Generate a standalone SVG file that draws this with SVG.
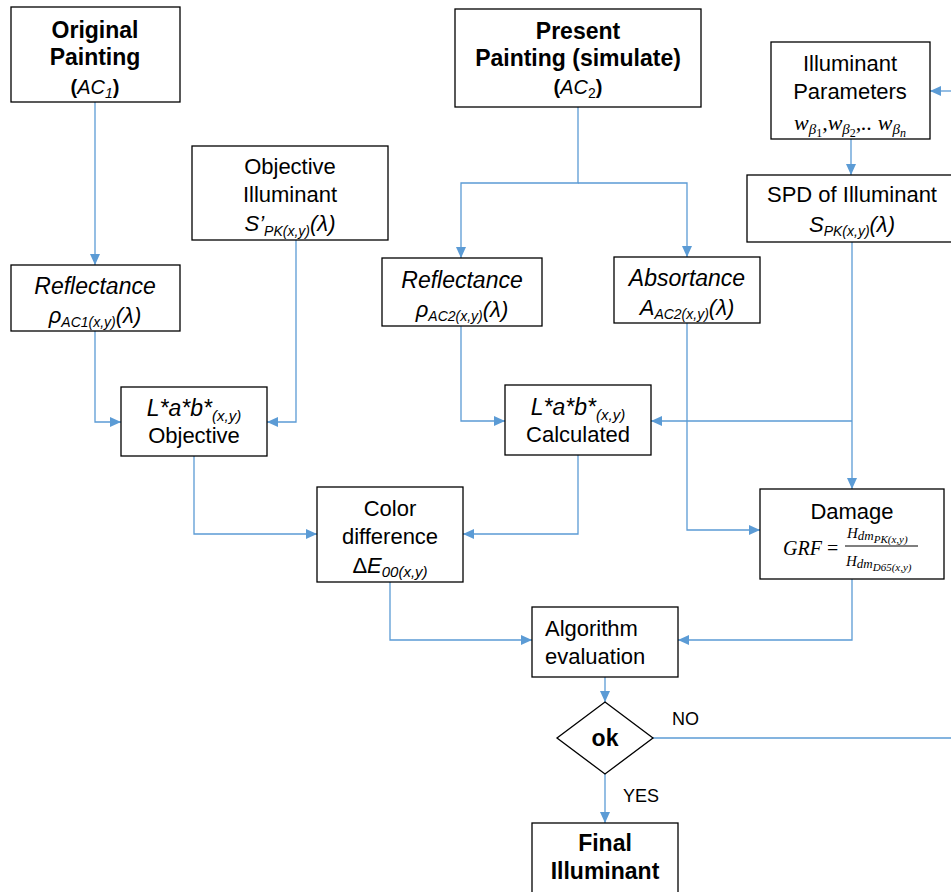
<svg xmlns="http://www.w3.org/2000/svg" width="951" height="892" viewBox="0 0 951 892">
<style>
.box{fill:#fff;stroke:#000;stroke-width:1.3}
.t{font-family:"Liberation Sans",Arial,sans-serif;font-size:22px;fill:#000;text-anchor:middle}
.b{font-weight:bold;font-size:23px}
.i{font-style:italic}
.it{font-style:italic;font-size:23px}
.m{font-family:"Liberation Serif","Times New Roman",serif;font-style:italic;fill:#000}
.c{fill:none;stroke:#5B9BD5;stroke-width:1.3}
.lbl{font-family:"Liberation Sans",Arial,sans-serif;font-size:18px;fill:#000}
</style>
<defs>
<marker id="arr" markerUnits="userSpaceOnUse" markerWidth="11" markerHeight="10" refX="11" refY="5" orient="auto">
<path d="M0,0 L11,5 L0,10 z" fill="#5B9BD5"/>
</marker>
</defs>

<g id="connectors">
<path class="c" d="M95,102 V265" marker-end="url(#arr)"/>
<path class="c" d="M95,331 V422 H121" marker-end="url(#arr)"/>
<path class="c" d="M296,240 V422 H267" marker-end="url(#arr)"/>
<path class="c" d="M578,107 V183 H461 V258" marker-end="url(#arr)"/>
<path class="c" d="M578,183 H687 V257" marker-end="url(#arr)"/>
<path class="c" d="M461,326 V421 H505" marker-end="url(#arr)"/>
<path class="c" d="M852,242 V489" marker-end="url(#arr)"/>
<path class="c" d="M852,421 H651" marker-end="url(#arr)"/>
<path class="c" d="M687,323 V530 H760" marker-end="url(#arr)"/>
<path class="c" d="M851,139 V175" marker-end="url(#arr)"/>
<path class="c" d="M951,91 H930" marker-end="url(#arr)"/>
<path class="c" d="M194,456 V534 H317" marker-end="url(#arr)"/>
<path class="c" d="M578,455 V534 H463" marker-end="url(#arr)"/>
<path class="c" d="M390,582 V640 H532" marker-end="url(#arr)"/>
<path class="c" d="M852,579 V640 H678" marker-end="url(#arr)"/>
<path class="c" d="M605,677 V702" marker-end="url(#arr)"/>
<path class="c" d="M653,738 H951"/>
<path class="c" d="M605,774 V823" marker-end="url(#arr)"/>
<text class="lbl" x="672" y="725">NO</text>
<text class="lbl" x="623" y="802">YES</text>
</g>

<g id="original">
<rect class="box" x="11" y="7" width="169" height="95"/>
<text class="t b" x="95" y="38">Original</text>
<text class="t b" x="95" y="65">Painting</text>
<text class="t" x="95" y="94" style="font-size:20px"><tspan font-weight="bold">(</tspan><tspan class="i">AC</tspan><tspan class="i" font-size="14" dy="4">1</tspan><tspan font-weight="bold" dy="-4">)</tspan></text>
</g>

<g id="objillum">
<rect class="box" x="192" y="146" width="196" height="94"/>
<text class="t" x="290" y="174">Objective</text>
<text class="t" x="290" y="202">Illuminant</text>
<text class="t i" x="290" y="231">S’<tspan font-size="14" dy="5">PK(x,y)</tspan><tspan dy="-5">(λ)</tspan></text>
</g>

<g id="refl1">
<rect class="box" x="11" y="265" width="169" height="66"/>
<text class="t it" x="95" y="294">Reflectance</text>
<text class="t i" x="95" y="323">ρ<tspan font-size="14" dy="4">AC1(x,y)</tspan><tspan dy="-4">(λ)</tspan></text>
</g>

<g id="labobj">
<rect class="box" x="121" y="387" width="146" height="69"/>
<text class="t it" x="194" y="416">L*a*b*<tspan font-size="15" dy="5">(x,y)</tspan></text>
<text class="t" x="194" y="443">Objective</text>
</g>

<g id="present">
<rect class="box" x="455" y="9" width="246" height="98"/>
<text class="t b" x="578" y="39">Present</text>
<text class="t b" x="578" y="66">Painting (simulate)</text>
<text class="t" x="578" y="94" style="font-size:20px"><tspan font-weight="bold">(</tspan><tspan class="i">AC</tspan><tspan font-size="14" dy="4">2</tspan><tspan font-weight="bold" dy="-4">)</tspan></text>
</g>

<g id="refl2">
<rect class="box" x="382" y="258" width="160" height="68"/>
<text class="t it" x="462" y="288">Reflectance</text>
<text class="t i" x="462" y="317">ρ<tspan font-size="14" dy="4">AC2(x,y)</tspan><tspan dy="-4">(λ)</tspan></text>
</g>

<g id="absort">
<rect class="box" x="614" y="257" width="146" height="66"/>
<text class="t it" x="687" y="286">Absortance</text>
<text class="t i" x="687" y="315">A<tspan font-size="14" dy="4">AC2(x,y)</tspan><tspan dy="-4">(λ)</tspan></text>
</g>

<g id="labcalc">
<rect class="box" x="505" y="385" width="146" height="70"/>
<text class="t it" x="578" y="415">L*a*b*<tspan font-size="15" dy="5">(x,y)</tspan></text>
<text class="t" x="578" y="442">Calculated</text>
</g>

<g id="illparams">
<rect class="box" x="771" y="42" width="159" height="97"/>
<text class="t" x="850" y="71">Illuminant</text>
<text class="t" x="850" y="99">Parameters</text>
<text class="m" x="850" y="130" font-size="22" text-anchor="middle">w<tspan font-size="15" dy="4">β</tspan><tspan font-size="12" dy="3" font-style="normal">1</tspan><tspan dy="-7">,</tspan>w<tspan font-size="15" dy="4">β</tspan><tspan font-size="12" dy="3" font-style="normal">2</tspan><tspan dy="-7">,.. </tspan>w<tspan font-size="15" dy="4">β</tspan><tspan font-size="12" dy="3">n</tspan></text>
</g>

<g id="spd">
<rect class="box" x="747" y="175" width="210" height="67"/>
<text class="t" x="852" y="202">SPD of Illuminant</text>
<text class="t i" x="852" y="232">S<tspan font-size="14" dy="4">PK(x,y)</tspan><tspan dy="-4">(λ)</tspan></text>
</g>

<g id="damage">
<rect class="box" x="760" y="489" width="184" height="90"/>
<text class="t" x="852" y="519">Damage</text>
<text class="m" x="783" y="555" font-size="20">GRF<tspan font-style="normal" dx="5">=</tspan></text>
<line x1="845" y1="546" x2="918" y2="546" stroke="#000" stroke-width="1.2"/>
<text class="m" x="847" y="538" font-size="15">H<tspan font-size="13" dy="2">dm</tspan><tspan font-size="11" dy="3">PK(x,y)</tspan></text>
<text class="m" x="846" y="566" font-size="15">H<tspan font-size="13" dy="2">dm</tspan><tspan font-size="11" dy="3">D65(x,y)</tspan></text>
</g>

<g id="colordiff">
<rect class="box" x="317" y="487" width="146" height="95"/>
<text class="t" x="390" y="516">Color</text>
<text class="t" x="390" y="544">difference</text>
<text class="t" x="390" y="573">Δ<tspan class="i">E</tspan><tspan class="i" font-size="15" dy="4">00(x,y)</tspan></text>
</g>

<g id="algo">
<rect class="box" x="532" y="607" width="146" height="70"/>
<text class="t" x="545" y="636" style="text-anchor:start">Algorithm</text>
<text class="t" x="545" y="664" style="text-anchor:start">evaluation</text>
</g>

<g id="ok">
<polygon class="box" points="605,702 653,738 605,774 557,738"/>
<text class="t b" x="605" y="746">ok</text>
</g>

<g id="final">
<rect class="box" x="532" y="823" width="146" height="80"/>
<text class="t b" x="605" y="851">Final</text>
<text class="t b" x="605" y="879">Illuminant</text>
</g>
</svg>
